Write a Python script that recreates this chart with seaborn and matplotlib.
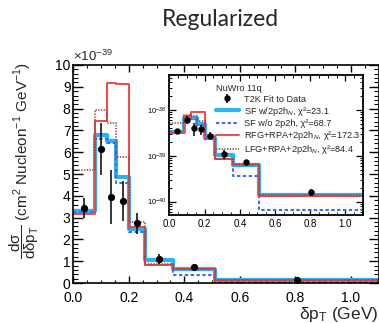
# dpT cross section, NuWro 11q comparison, regularized unfolding
import numpy as np
import matplotlib
matplotlib.use("Agg")
import matplotlib.pyplot as plt
import seaborn as sns
from matplotlib.ticker import MultipleLocator, LogLocator, FixedLocator, NullFormatter, FormatStrFormatter

# ---- data (units of 1e-39 cm^2 / nucleon / GeV) ----
bin_edges = [0.0, 0.08, 0.12, 0.155, 0.2, 0.26, 0.36, 0.51, 1.1]
t2k_data = [3.45, 6.15, 3.95, 3.75, 2.75, 1.10, 0.74, 0.16]
t2k_err = [0.45, 1.20, 1.25, 0.92, 0.48, 0.23, 0.06, 0.03]
sf_2p2h = [3.32, 6.77, 6.53, 4.85, 2.50, 1.05, 0.64, 0.14]
sf_no2p2h = [3.25, 6.62, 6.40, 4.60, 2.33, 0.83, 0.37, 0.065]
rfg_rpa = [3.15, 7.42, 9.17, 9.13, 2.57, 0.84, 0.64, 0.13]
lfg_rpa = [5.20, 7.92, 7.35, 5.78, 2.78, 0.86, 0.65, 0.14]

labels = ["T2K Fit to Data",
          r"SF w/2p2h$_{N}$, χ²=23.1",
          "SF w/o 2p2h, χ²=68.7",
          r"RFG+RPA+2p2h$_{N}$, χ²=172.3",
          r"LFG+RPA+2p2h$_{N}$, χ²=84.4"]

sns.set_theme(style="ticks")
plt.rcParams['font.family'] = ['Liberation Sans', 'DejaVu Sans']
plt.rcParams['mathtext.fontset'] = 'custom'
plt.rcParams['mathtext.rm'] = 'Liberation Sans'
plt.rcParams['mathtext.it'] = 'Liberation Sans:italic'
plt.rcParams['mathtext.bf'] = 'Liberation Sans:bold'

styles = [
    (sf_2p2h, dict(color="#2ab4ef", lw=3.0, ls="-")),
    (sf_no2p2h, dict(color="#3a6cf5", lw=1.5, ls=(0, (1.6, 1.2)))),
    (rfg_rpa, dict(color="#f54646", lw=1.4, ls="-")),
    (lfg_rpa, dict(color="#9b3a3a", lw=1.1, ls=(0, (0.9, 0.9)))),
]

edges = np.array(bin_edges)
centers = 0.5 * (edges[1:] + edges[:-1])


def draw_hists(ax, scale, data_ms):
    handles = []
    for vals, st in styles:
        y = np.append(np.array(vals) * scale, vals[-1] * scale)
        sns.lineplot(x=edges, y=y, drawstyle="steps-post", color=st["color"],
                     linewidth=st["lw"], linestyle=st["ls"], ax=ax,
                     estimator=None, sort=False, legend=False)
        handles.append(ax.lines[-1])
    eb = ax.errorbar(centers, np.array(t2k_data) * scale, yerr=np.array(t2k_err) * scale,
                     fmt="o", color="black", ms=data_ms, elinewidth=1.1, capsize=0, zorder=5)
    return eb, handles


def root_frame(ax, lw):
    for s in ax.spines.values():
        s.set_linewidth(lw)
        s.set_color("black")
    ax.tick_params(which="both", direction="in", top=True, right=True, colors="black")


fig = plt.figure(figsize=(3.79, 3.23), dpi=100)

# ---- main panel ----
ax = fig.add_axes([0.1934, 0.1238, 0.8053, 0.675])
draw_hists(ax, 1.0, 4.2)
ax.set_xlim(0, 1.1)
ax.set_ylim(0, 10)
root_frame(ax, 1.2)
ax.xaxis.set_major_locator(MultipleLocator(0.2))
ax.xaxis.set_minor_locator(MultipleLocator(0.05))
ax.yaxis.set_major_locator(MultipleLocator(1))
ax.yaxis.set_minor_locator(MultipleLocator(0.2))
ax.xaxis.set_major_formatter(FormatStrFormatter("%.1f"))
ax.tick_params(axis="x", which="major", length=5, width=1, labelsize=10, pad=5.5)
ax.tick_params(axis="x", which="minor", length=2.5, width=0.8)
ax.tick_params(axis="y", which="major", length=7, width=1, labelsize=10, pad=2)
ax.tick_params(axis="y", which="minor", length=3.5, width=0.8)

ax.set_xlabel("δp$_{\\mathrm{T}}$ (GeV)", fontsize=12.5, ha="right")
ax.xaxis.set_label_coords(1.0, -0.1)
ax.set_ylabel(r"$\dfrac{\mathrm{dσ}}{\mathrm{dδp_{T}}}$ (cm$^{2}$ Nucleon$^{-1}$ GeV$^{-1}$)",
              fontsize=11, ha="right")
ax.yaxis.set_label_coords(-0.105, 1.015)

fig.text(73 / 379, 1 - 61 / 323, r"$\times$10$^{-39}$", fontsize=9.5, ha="left", va="baseline")
fig.text(220 / 379, 1 - 20 / 323, "Regularized", fontsize=16.5, family="Lato",
         ha="center", va="center")

# ---- inset (log scale) ----
ins = fig.add_axes([0.4472, 0.3344, 0.5106, 0.4334])
ins.set_facecolor("white")
eb, hs = draw_hists(ins, 1e-39, 3.6)
ins.set_yscale("log")
ins.set_xlim(0, 1.1)
ins.set_ylim(5.1e-41, 5.8e-38)
root_frame(ins, 1.3)
ins.xaxis.set_major_locator(MultipleLocator(0.2))
ins.xaxis.set_minor_locator(MultipleLocator(0.05))
ins.xaxis.set_major_formatter(FormatStrFormatter("%.1f"))
ins.yaxis.set_major_locator(FixedLocator([1e-40, 1e-39, 1e-38]))
ins.yaxis.set_minor_locator(LogLocator(base=10, subs=np.arange(2, 10), numticks=20))
ins.yaxis.set_minor_formatter(NullFormatter())
ins.tick_params(axis="x", which="major", length=4, width=0.9, labelsize=7, pad=3)
ins.tick_params(axis="x", which="minor", length=2, width=0.7)
ins.tick_params(axis="y", which="major", length=5, width=0.9, labelsize=5.5, pad=2)
ins.tick_params(axis="y", which="minor", length=2.5, width=0.7)

leg = ins.legend([eb] + hs, labels, title="NuWro 11q", loc="upper left",
                 bbox_to_anchor=(0.215, 0.965), frameon=False, fontsize=6.6,
                 title_fontsize=6.6, handlelength=2.5, handletextpad=0.6,
                 labelspacing=0.12, borderpad=0)
leg._legend_box.align = "left"

fig.savefig("out.png", dpi=100)
